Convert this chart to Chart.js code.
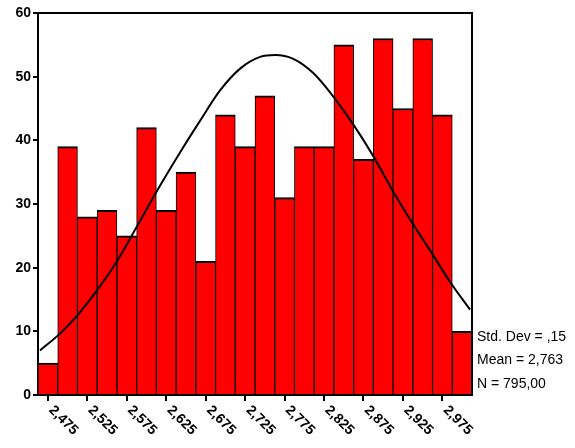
<!DOCTYPE html>
<html>
<head>
<meta charset="utf-8">
<script src="https://cdn.jsdelivr.net/npm/chart.js@4/dist/chart.umd.min.js"></script>
<style>
  html, body { margin: 0; padding: 0; background: #fff; }
  #wrap { width: 575px; height: 448px; }
</style>
</head>
<body>
<div id="wrap"><canvas id="histograma"></canvas></div>
<script>
// centros das classes (largura 0,025) e frequencias
const centros = [2.475, 2.500, 2.525, 2.550, 2.575, 2.600, 2.625, 2.650, 2.675, 2.700, 2.725,
                 2.750, 2.775, 2.800, 2.825, 2.850, 2.875, 2.900, 2.925, 2.950, 2.975, 3.000];
const frequencias = [5, 39, 28, 29, 25, 42, 29, 35, 21, 44, 39,
                     47, 31, 39, 39, 55, 37, 56, 45, 56, 44, 10];

// curva normal ajustada (pontos x / y)
const curvaX = [2.465, 2.490, 2.513, 2.537, 2.563, 2.588, 2.613, 2.646, 2.668, 2.693, 2.719, 2.744,
                2.763, 2.786, 2.811, 2.836, 2.862, 2.887, 2.912, 2.937, 2.962, 2.985, 3.010];
const curvaY = [7.0, 9.6, 12.6, 16.4, 21.1, 26.5, 32.0, 38.8, 43.1, 47.8, 51.3, 53.1,
                53.4, 52.8, 50.6, 47.0, 42.5, 37.6, 32.1, 27.0, 22.2, 17.7, 13.4];

// rotulos do eixo x
const ticksX = [2.475, 2.525, 2.575, 2.625, 2.675, 2.725, 2.775, 2.825, 2.875, 2.925, 2.975];
const rotulosX = ['2,475', '2,525', '2,575', '2,625', '2,675', '2,725', '2,775', '2,825', '2,875', '2,925', '2,975'];

const estatisticas = ['Std. Dev = ,15', 'Mean = 2,763', 'N = 795,00'];

Chart.defaults.font.family = '"Liberation Sans", Arial, sans-serif';
Chart.defaults.color = '#000';

const extras = {
    id: 'extras',
    afterDraw(chart) {
        const ctx = chart.ctx;
        const area = chart.chartArea;
        const x = chart.scales.x;
        ctx.save();
        // moldura
        ctx.strokeStyle = '#000';
        ctx.lineWidth = 2;
        ctx.beginPath();
        ctx.moveTo(area.left, area.top);
        ctx.lineTo(area.right, area.top);
        ctx.lineTo(area.right, area.bottom);
        ctx.stroke();

        // rotulos inclinados
        ctx.fillStyle = '#000';
        ctx.font = 'bold 14px "Liberation Sans", Arial, sans-serif';
        ctx.textAlign = 'left';
        ctx.textBaseline = 'middle';
        ticksX.forEach((v, i) => {
            const px = x.getPixelForValue(v);
            ctx.save();
            ctx.translate(px + 3, area.bottom + 13);
            ctx.rotate(Math.PI / 4);
            ctx.fillText(rotulosX[i], 0, 0);
            ctx.restore();
        });

        // estatisticas
        ctx.font = '14px "Liberation Sans", Arial, sans-serif';
        estatisticas.forEach((t, i) => {
            ctx.fillText(t, area.right + 5, 337 + i * 23.5);
        });
        ctx.restore();
    }
};

new Chart(document.getElementById('histograma'), {
    type: 'bar',
    data: {
        datasets: [
            {
                type: 'line',
                data: curvaX.map((v, i) => ({ x: v, y: curvaY[i] })),
                borderColor: '#000',
                borderWidth: 2,
                pointRadius: 0,
                cubicInterpolationMode: 'monotone',
                fill: false,
                order: 0
            },
            {
                type: 'bar',
                data: centros.map((v, i) => ({ x: v, y: frequencias[i] })),
                backgroundColor: '#ff0000',
                borderColor: '#000',
                borderWidth: { top: 2, left: 1, right: 1, bottom: 0 },
                borderSkipped: false,
                barPercentage: 1,
                categoryPercentage: 1,
                order: 1
            }
        ]
    },
    options: {
        responsive: true,
        maintainAspectRatio: false,
        animation: false,
        layout: { padding: { top: 13, right: 103, left: 0, bottom: 0 } },
        plugins: { legend: { display: false }, tooltip: { enabled: false } },
        scales: {
            x: {
                type: 'linear',
                min: 2.4625,
                max: 3.0125,
                offset: false,
                afterBuildTicks: s => { s.ticks = ticksX.map(v => ({ value: v })); },
                afterFit: s => { s.height = 53; },
                ticks: { display: false },
                grid: { drawOnChartArea: false, offset: false, color: '#000', lineWidth: 2, tickLength: 6 },
                border: { color: '#000', width: 2 }
            },
            y: {
                min: 0,
                max: 60,
                ticks: { stepSize: 10, padding: 2, font: { size: 14, weight: 'bold' } },
                afterFit: s => { s.width = 38; },
                grid: { drawOnChartArea: false, color: '#000', lineWidth: 2, tickLength: 5 },
                border: { color: '#000', width: 2 }
            }
        }
    },
    plugins: [extras]
});
</script>
</body>
</html>
